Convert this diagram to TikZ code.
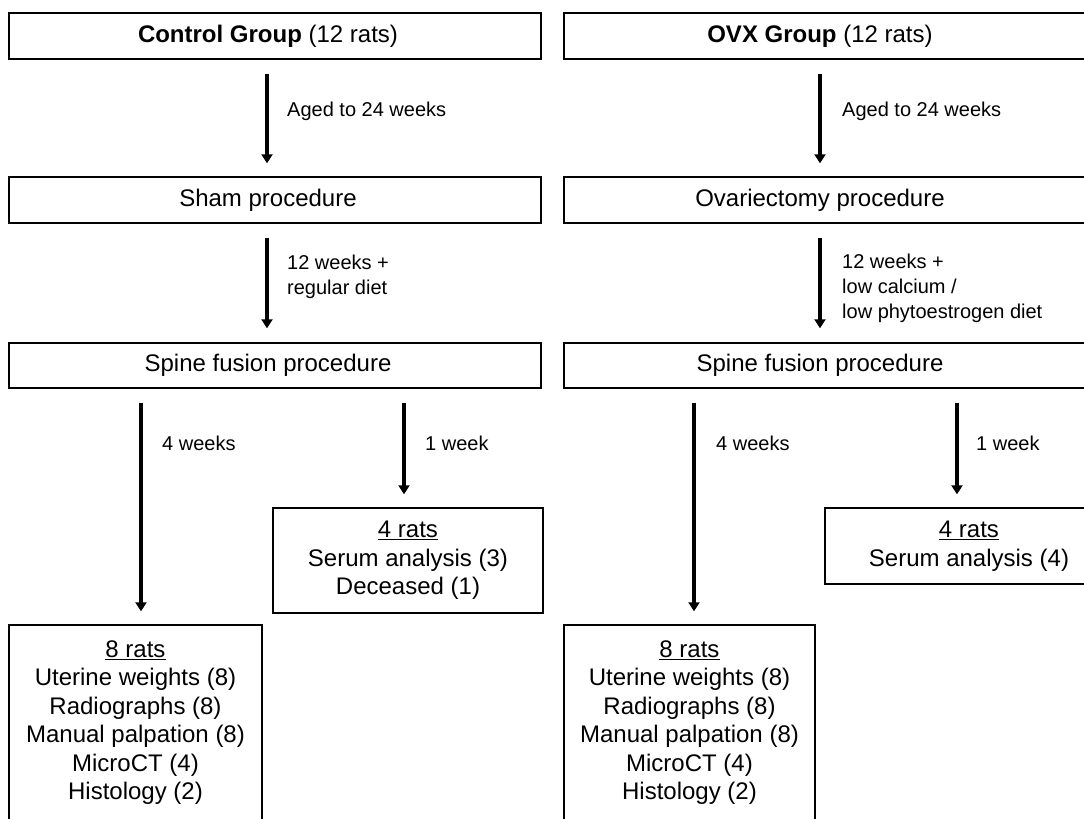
\documentclass[tikz,border=0pt]{standalone}
\usepackage{fontspec}
\setmainfont{Liberation Sans}
\usetikzlibrary{arrows.meta,calc}
\begin{document}
\begin{tikzpicture}[x=1pt,y=-1pt,
  box/.style={draw,line width=1.4pt,inner sep=0pt,align=center,font=\fontsize{24pt}{28.5pt}\selectfont},
  wideL/.style={box,minimum width=532pt,minimum height=46pt},
  wideR/.style={box,minimum width=524pt,minimum height=46pt},
  flow/.style={line width=4pt,-{Triangle[length=9pt,width=11pt]}},
  lbl/.style={anchor=west,inner sep=0pt,align=left,font=\fontsize{20pt}{25pt}\selectfont}]
\useasboundingbox (0,0) rectangle (1084,819);
\clip (0,0) rectangle (1084,819);
\fill[white] (0,0) rectangle (1084,819);

% left column
\node[wideL] (ctrl) at (275,36) {\hspace*{-14pt}\textbf{Control Group} (12 rats)};
\node[wideL] (sham) at (275,200) {\hspace*{-14pt}Sham procedure};
\node[wideL,minimum height=45pt] (spL) at (275,365.5) {\hspace*{-14pt}Spine fusion procedure};
\node[box,minimum width=270pt,minimum height=105pt] (r4L) at (408,560.5)
  {\underline{4 rats}\\Serum analysis (3)\\Deceased (1)};
\node[box,minimum width=253pt,minimum height=195pt] (r8L) at (135.5,722.5)
  {\underline{8 rats}\\Uterine weights (8)\\Radiographs (8)\\Manual palpation (8)\\MicroCT (4)\\Histology (2)};

% right column
\node[wideR] (ovx) at (826,36) {\hspace*{-12pt}\textbf{OVX Group} (12 rats)};
\node[wideR] (ovp) at (826,200) {\hspace*{-12pt}Ovariectomy procedure};
\node[wideR,minimum height=45pt] (spR) at (826,365.5) {\hspace*{-12pt}Spine fusion procedure};
\node[box,minimum width=288pt,minimum height=76pt] (r4R) at (969,546)
  {\underline{4 rats}\\Serum analysis (4)};
\node[box,minimum width=251pt,minimum height=195pt] (r8R) at (689.5,722.5)
  {\underline{8 rats}\\Uterine weights (8)\\Radiographs (8)\\Manual palpation (8)\\MicroCT (4)\\Histology (2)};

% arrows left
\draw[flow] ([xshift=-8pt,yshift=-14pt]ctrl.south) -- ([xshift=-8pt,yshift=13pt]sham.north);
\draw[flow] ([xshift=-8pt,yshift=-14pt]sham.south) -- ([xshift=-8pt,yshift=14pt]spL.north);
\draw[flow] ([xshift=5.5pt,yshift=-14pt]r8L.north |- spL.south) -- ([xshift=5.5pt,yshift=13pt]r8L.north);
\draw[flow] ([xshift=-4pt,yshift=-14pt]r4L.north |- spL.south) -- ([xshift=-4pt,yshift=13pt]r4L.north);

% arrows right
\draw[flow] ([xshift=-6pt,yshift=-14pt]ovx.south) -- ([xshift=-6pt,yshift=13pt]ovp.north);
\draw[flow] ([xshift=-6pt,yshift=-14pt]ovp.south) -- ([xshift=-6pt,yshift=14pt]spR.north);
\draw[flow] ([xshift=4.5pt,yshift=-14pt]r8R.north |- spR.south) -- ([xshift=4.5pt,yshift=13pt]r8R.north);
\draw[flow] ([xshift=-12pt,yshift=-14pt]r4R.north |- spR.south) -- ([xshift=-12pt,yshift=13pt]r4R.north);

% labels
\node[lbl] (l1) at (287,111) {Aged to 24 weeks};
\node[lbl] (l2) at (287,277) {12 weeks +\\regular diet};
\node[lbl] (l3) at (162,443) {4 weeks};
\node[lbl] (l4) at (425,443) {1 week};
\node[lbl] (r1) at (842,111) {Aged to 24 weeks};
\node[lbl] (r2) at (842,288) {12 weeks +\\low calcium /\\low phytoestrogen diet};
\node[lbl] (r3) at (716,443) {4 weeks};
\node[lbl] (r4) at (976,443) {1 week};
\end{tikzpicture}
\end{document}
